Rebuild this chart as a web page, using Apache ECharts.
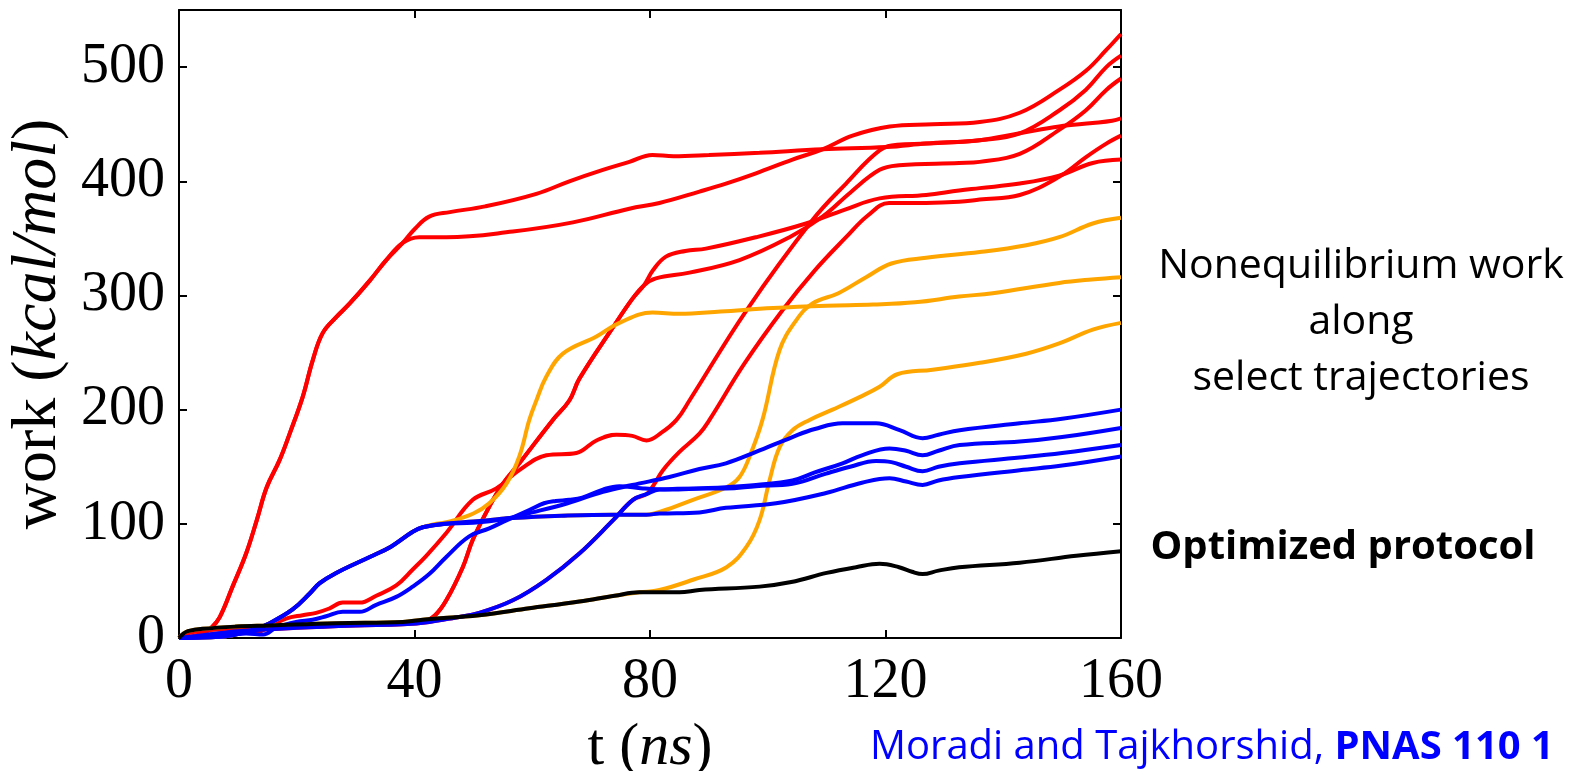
<!DOCTYPE html>
<html>
<head>
<meta charset="utf-8">
<script src="https://cdn.jsdelivr.net/npm/echarts@6/dist/echarts.min.js"></script>
<style>
  html, body { margin: 0; padding: 0; background: #fff; }
  #main { width: 1575px; height: 771px; }
</style>
</head>
<body>
<div id="main"></div>
<script>
// axis ticks
var xTicks = [0, 40, 80, 120, 160]
var yTicks = [0, 100, 200, 300, 400, 500]

// shared starting paths (several trajectories lie on top of each other early on)
var redEarly = [[0, 0], [2, 1], [4, 4], [5.5, 9], [6.9, 18], [9.1, 45], [11.4, 74], [13.2, 103], [14.9, 132], [17.1, 156], [18.8, 179], [21, 211], [22.7, 243], [24.4, 267], [26.7, 281], [29, 293], [32.4, 313], [35.2, 331], [38, 346]]
var redA1Tail = [[40, 358], [42.5, 369], [46, 373], [52, 378], [60.7, 389], [66.3, 400], [72, 410], [76.5, 417], [80.4, 423], [84, 422], [90, 423], [98.6, 425], [109.3, 428], [120.2, 430], [126.9, 433], [136, 436], [142.8, 442], [149.5, 448], [155.2, 451], [158.5, 453], [160, 455]]
var redA2Tail = [[40.8, 351], [45.4, 351], [56.7, 356], [66.9, 364], [76.5, 376], [81.6, 381], [88.4, 391], [92.9, 398], [98, 407], [104.2, 419], [109.3, 428], [114.4, 440], [120.7, 448], [128, 450], [136, 452], [142.8, 460], [149.5, 480], [154.1, 497], [157.5, 515], [160, 529]]

var redWavy = [[0, 0], [5, 2], [9.7, 4], [13.2, 5], [15.4, 10], [18.2, 17], [21, 20], [23.3, 22], [25.6, 26], [27.8, 31], [30.7, 31], [33.5, 37], [36.9, 46], [39.7, 60], [42, 72], [45.4, 92], [49.9, 121], [53.9, 131], [57.8, 147], [62.4, 160], [67.5, 162], [70.9, 173], [74.3, 178], [77, 177], [79.4, 173], [82, 180], [84.5, 191], [86.7, 208], [96.4, 287], [107.6, 366], [113.3, 398], [119, 427], [122, 432], [126.9, 433], [136, 436], [142.8, 442], [149.5, 462], [154, 480], [157.5, 500], [160, 510]]

var redLate = [[0, 0], [2, 5], [5, 7], [10, 9], [20, 11], [30, 12], [38, 13], [41.4, 14], [43.5, 20], [45.4, 33], [48.2, 62], [49.9, 86], [52.7, 115], [55, 135], [57.8, 153], [63.5, 191], [66.3, 208], [68, 227], [73.7, 272], [77, 297], [79, 309]]
var redBTail = [[80.5, 322], [82.7, 334], [86, 339], [89.5, 341], [98, 351], [106.5, 363], [113, 375], [119, 385], [126.9, 388], [132.5, 392], [136, 394], [142.8, 398], [149.5, 405], [155.2, 416], [160, 419]]
var redCTail = [[81, 315], [86.7, 320], [95.2, 331], [103.7, 351], [109.3, 369], [114, 390], [119, 410], [122.3, 414], [132.5, 416], [136, 417], [142.8, 424], [149.5, 445], [154, 462], [157.5, 480], [160, 490]]

var blueLBase = [[0, 0], [5, 3], [10, 6], [20, 9], [30, 11], [38, 12], [42.5, 14], [47, 18], [51, 22], [56.7, 33], [62.4, 51], [68, 74], [73.7, 103], [77.1, 121], [79.4, 126]]
var blueLTail = [[81.6, 130], [88.4, 131], [92.9, 131], [98, 133], [104.2, 135], [109.9, 144], [114, 150], [118.4, 155], [121, 154], [123.5, 150], [126.3, 146], [129, 150], [132.6, 153], [142.8, 158], [150, 162], [160, 169]]
var redS2Tail = [[80.5, 133], [82.2, 147], [85, 163], [88.4, 179], [90.1, 191], [96, 240], [102.5, 287], [108, 322], [113.3, 351], [117, 370], [120.6, 381], [126.9, 381], [132.5, 382], [136, 384], [142.8, 388], [149.5, 404], [154, 421], [157.5, 433], [160, 440]]

var commonPath = [[0, 0], [6.9, 1], [12.5, 7], [15.4, 13], [19.3, 25], [22.2, 39], [23.9, 48], [26.7, 57], [32.4, 71], [36, 80], [39.7, 93], [41.4, 97]]
var flatShared = [[45.4, 100], [50, 102], [56.7, 105], [65, 107], [73.7, 108], [79.4, 108]]
var blueFTail = [[81.6, 109], [88.4, 110], [92.9, 114], [101.4, 118], [109.9, 127], [116, 136], [120.7, 140], [123.5, 137], [126.3, 134], [129, 138], [132.6, 141], [142.8, 147], [150, 151], [160, 159]]
var orange1Tail = [[82, 111], [87.3, 121], [93, 132], [95.2, 141], [97, 160], [99.1, 191], [102, 252], [104.8, 278], [107.6, 293], [112, 302], [116.7, 316], [121, 328], [126.9, 333], [136, 338], [143.9, 344], [149.5, 351], [155.2, 363], [160, 368]]
var blueUTail = [[45, 100], [50, 101], [55, 104], [60, 110], [66, 118], [72, 128], [77, 134], [83.3, 141], [88.4, 148], [92.9, 153], [98, 163], [104.2, 176], [108, 183], [112.7, 188], [118.4, 188], [122.4, 182], [126.3, 175], [129, 178], [132.6, 182], [142.8, 188], [150, 192], [160, 200]]
var orange2Tail = [[43.7, 100], [46, 102], [50, 109], [52.7, 118], [55.6, 135], [57.8, 159], [59.5, 191], [60.7, 208], [62.4, 229], [65.2, 249], [70.9, 264], [74.8, 276], [80.4, 285], [85, 284], [92, 286], [100.9, 289], [110, 291], [117.9, 292], [125, 294], [132.5, 299], [138.2, 302], [149.5, 311], [155, 314], [160, 316]]

var blueWavy = [[0, 0], [5, 1], [9, 3], [11.4, 4], [14.3, 3], [16.5, 9], [19.9, 14], [22.7, 16], [25, 19], [27.8, 23], [30.7, 23], [33.5, 29], [36.9, 36], [39.7, 45], [42.5, 56], [45.4, 71], [49.3, 89], [52.7, 96], [55.6, 103], [59.5, 112], [62, 118], [64, 120], [66.3, 121], [68.5, 123], [72, 130], [74.8, 133], [78.8, 131], [83.3, 130], [88.4, 131], [92.9, 132], [98, 134], [104.2, 138], [108, 145], [112.7, 153], [116, 160], [120.7, 166], [123.5, 164], [126.3, 160], [129, 164], [132.6, 169], [142.8, 172], [150, 176], [160, 184]]

var blackBase = [[0, 0], [0.8, 4], [1.5, 6], [4, 8], [9.7, 10], [15.4, 11], [26.7, 13], [38, 14], [41.4, 16], [51, 20], [59.5, 26], [68, 32], [74, 37], [78.2, 40]]
var blackTail = [[85, 40], [88.4, 42], [98.6, 45], [104, 49], [110, 57], [115, 62], [119, 65], [122.3, 62], [124.5, 58], [126.3, 56], [129, 59], [132.5, 62], [142.8, 66], [152.4, 72], [160, 76]]
var orange3Tail = [[81.6, 42], [87.3, 51], [93, 62], [96.4, 80], [98.6, 103], [100.3, 138], [102, 167], [104.2, 182], [107.1, 191], [111, 200], [115.6, 211], [119, 220], [122, 231], [128, 235], [136, 241], [143.9, 249], [149.5, 258], [155.2, 270], [160, 276]]

var RED = '#ff0000'
var ORANGE = '#ffa500'
var BLUE = '#0000ff'
var BLACK = '#000000'
var SERIF = '"Liberation Serif", "Times New Roman", serif'

function line (name, data, color) {
  return {
    name: name,
    type: 'line',
    data: data,
    showSymbol: false,
    smooth: 0.4,
    lineStyle: { color: color, width: 4 },
    itemStyle: { color: color },
    emphasis: { disabled: true }
  }
}

var series = [
  line('red 1', redEarly.concat(redA1Tail), RED),
  line('red 2', redEarly.concat(redA2Tail), RED),
  line('red 3', redWavy, RED),
  line('red 4', redLate.concat(redBTail), RED),
  line('red 5', redLate.concat(redCTail), RED),
  line('red 6', blueLBase.concat(redS2Tail), RED),
  line('orange 1', commonPath.concat(flatShared, orange1Tail), ORANGE),
  line('orange 2', commonPath.concat(orange2Tail), ORANGE),
  line('orange 3', blackBase.concat(orange3Tail), ORANGE),
  line('blue 1', commonPath.concat(flatShared, blueFTail), BLUE),
  line('blue 2', commonPath.concat(blueUTail), BLUE),
  line('blue 3', blueWavy, BLUE),
  line('blue 4', blueLBase.concat(blueLTail), BLUE),
  line('optimized', blackBase.concat(blackTail), BLACK)
]

var frame = { show: true, onZero: false, lineStyle: { color: '#000', width: 2 } }
var ticksIn = { show: true, inside: true, length: 8, lineStyle: { color: '#000', width: 2 } }

var option = {
  animation: false,
  backgroundColor: '#fff',
  grid: { left: 179, top: 10, right: 454, bottom: 133, containLabel: false, outerBoundsMode: 'none' },
  xAxis: [
    {
      type: 'value',
      min: xTicks[0],
      max: xTicks[xTicks.length - 1],
      interval: 40,
      position: 'bottom',
      axisLine: frame,
      axisTick: ticksIn,
      splitLine: { show: false },
      axisLabel: { fontFamily: SERIF, fontSize: 56, color: '#000', margin: 16 },
      name: '{r|t (}{i|ns}{r|)}',
      nameLocation: 'middle',
      nameGap: 80,
      nameTextStyle: {
        rich: {
          r: { fontFamily: SERIF, fontSize: 60, color: '#000' },
          i: { fontFamily: SERIF, fontSize: 60, fontStyle: 'italic', color: '#000' }
        }
      }
    },
    {
      type: 'value',
      min: 0,
      max: 160,
      interval: 40,
      position: 'top',
      axisLine: frame,
      axisTick: ticksIn,
      axisLabel: { show: false },
      splitLine: { show: false }
    }
  ],
  yAxis: [
    {
      type: 'value',
      min: 0,
      max: 550,
      interval: 100,
      position: 'left',
      axisLine: frame,
      axisTick: ticksIn,
      splitLine: { show: false },
      axisLabel: {
        fontFamily: SERIF,
        fontSize: 56,
        color: '#000',
        margin: 14,
        showMaxLabel: false,
        formatter: function (v) { return yTicks.indexOf(v) >= 0 ? String(v) : '' }
      },
      name: '{r|work (}{i|kcal/mol}{r|)}',
      nameLocation: 'middle',
      nameGap: 106,
      nameTextStyle: {
        rich: {
          r: { fontFamily: SERIF, fontSize: 64, color: '#000' },
          i: { fontFamily: SERIF, fontSize: 64, fontStyle: 'italic', color: '#000' }
        }
      }
    },
    {
      type: 'value',
      min: 0,
      max: 550,
      interval: 100,
      position: 'right',
      axisLine: frame,
      axisTick: ticksIn,
      axisLabel: { show: false },
      splitLine: { show: false }
    }
  ],
  graphic: [
    { type: 'text', x: 1361, y: 266, style: { text: 'Nonequilibrium work', font: '41px "Open Sans"', fill: '#000', textAlign: 'center', textVerticalAlign: 'middle' } },
    { type: 'text', x: 1361, y: 322, style: { text: 'along', font: '41px "Open Sans"', fill: '#000', textAlign: 'center', textVerticalAlign: 'middle' } },
    { type: 'text', x: 1361, y: 378, style: { text: 'select trajectories', font: '41px "Open Sans"', fill: '#000', textAlign: 'center', textVerticalAlign: 'middle' } },
    { type: 'text', x: 1343, y: 548, style: { text: 'Optimized protocol', font: 'bold 40px "Open Sans"', fill: '#000', textAlign: 'center', textVerticalAlign: 'middle' } },
    {
      type: 'text',
      x: 870,
      y: 748,
      style: {
        text: '{n|Moradi and Tajkhorshid, }{b|PNAS 110 1}',
        textAlign: 'left',
        textVerticalAlign: 'middle',
        rich: {
          n: { fontFamily: 'Open Sans', fontSize: 40, fill: '#0000ff' },
          b: { fontFamily: 'Open Sans', fontSize: 40, fontWeight: 'bold', fill: '#0000ff' }
        }
      }
    }
  ],
  series: series
}

var chart = echarts.init(document.getElementById('main'))
chart.setOption(option)
</script>
</body>
</html>
